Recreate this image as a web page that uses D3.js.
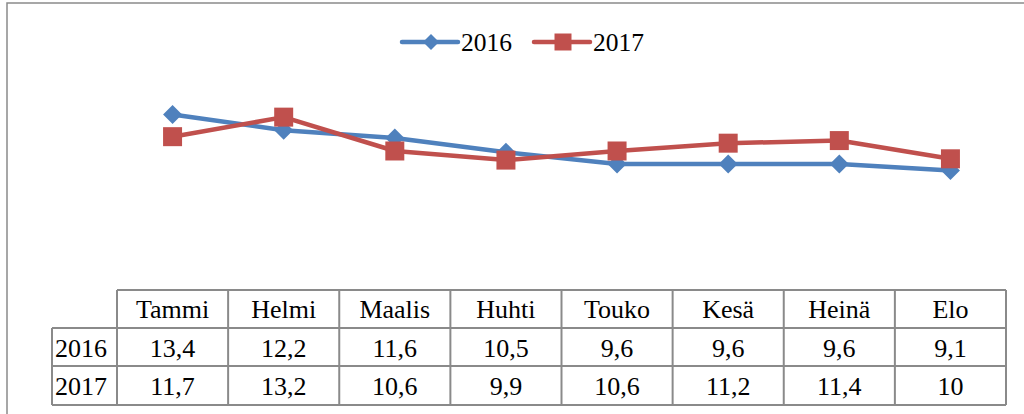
<!DOCTYPE html>
<html>
<head>
<meta charset="utf-8">
<script src="https://cdn.jsdelivr.net/npm/d3@7"></script>
<style>
  html,body{margin:0;padding:0;background:#fff;overflow:hidden;}
  svg{display:block;}
  svg text{font-family:'Liberation Serif','Times New Roman',Times,'DejaVu Serif',serif;}
</style>
</head>
<body>
<div id="chart"></div>
<script>
const months = ['Tammi','Helmi','Maalis','Huhti','Touko','Kesä','Heinä','Elo'];
const years = ['2016','2017'];
const v2016 = [13.4, 12.2, 11.6, 10.5, 9.6, 9.6, 9.6, 9.1];
const v2017 = [11.7, 13.2, 10.6, 9.9, 10.6, 11.2, 11.4, 10];
const colors = {'2016':'#4f81bd','2017':'#c0504d'};
const labels = {'2016':['13,4','12,2','11,6','10,5','9,6','9,6','9,6','9,1'],
                '2017':['11,7','13,2','10,6','9,9','10,6','11,2','11,4','10']};

(function(){
  const W=1024, H=414;
  const svg=d3.select('#chart').append('svg').attr('width',W).attr('height',H);
  const grey='#8a8a8a';

  // outer chart frame (right/bottom edges fall outside the picture)
  svg.append('rect').attr('x',7).attr('y',3).attr('width',1040).attr('height',430)
    .attr('fill','none').attr('stroke',grey).attr('stroke-width',1.5);

  const x=d3.scaleBand().domain(months).range([117,1006]);
  const y=d3.scaleLinear().domain([0,20]).range([289,28.6]);
  const cx=m=>x(m)+x.bandwidth()/2;

  const series=[{k:'2016',vals:v2016},{k:'2017',vals:v2017}];
  const diamond=r=>`M0,${-r}L${r},0L0,${r}L${-r},0Z`;
  const square=s=>`M${-s/2},${-s/2}h${s}v${s}h${-s}Z`;
  const shape={'2016':diamond(9.5),'2017':square(19)};

  const line=d3.line().x((d,i)=>cx(months[i])).y(d=>y(d));
  series.forEach(s=>{
    svg.append('path').datum(s.vals).attr('d',line).attr('fill','none')
      .attr('stroke',colors[s.k]).attr('stroke-width',4.5).attr('stroke-linejoin','round');
    svg.selectAll('.m'+s.k).data(s.vals).join('path')
      .attr('transform',(d,i)=>`translate(${cx(months[i])},${y(d)})`)
      .attr('d',shape[s.k]).attr('fill',colors[s.k]);
  });

  // legend
  const leg=svg.append('g').attr('transform','translate(0,42)');
  const lx={'2016':402,'2017':534};
  years.forEach(k=>{
    const g=leg.append('g').attr('transform',`translate(${lx[k]},0)`);
    g.append('line').attr('x1',0).attr('x2',56).attr('y1',0).attr('y2',0)
      .attr('stroke',colors[k]).attr('stroke-width',4.5).attr('stroke-linecap','round');
    g.append('path').attr('transform','translate(29,0)')
      .attr('d',k==='2016'?diamond(8):square(17)).attr('fill',colors[k]);
    g.append('text').attr('x',59).attr('y',9)
      .style('font-size','25.5px').attr('fill','#000').text(k);
  });

  // data table
  const rowY=[290,328,366,405];
  const t=svg.append('g').attr('stroke',grey).attr('stroke-width',2).attr('fill','none');
  t.append('line').attr('x1',117).attr('x2',1006).attr('y1',rowY[0]).attr('y2',rowY[0]);
  [1,2,3].forEach(i=>t.append('line').attr('x1',52).attr('x2',1006).attr('y1',rowY[i]).attr('y2',rowY[i]));
  t.append('line').attr('x1',52).attr('x2',52).attr('y1',rowY[1]).attr('y2',rowY[3]);
  months.forEach(m=>t.append('line').attr('x1',x(m)).attr('x2',x(m)).attr('y1',rowY[0]).attr('y2',rowY[3]));
  t.append('line').attr('x1',1006).attr('x2',1006).attr('y1',rowY[0]).attr('y2',rowY[3]);

  const txt=svg.append('g').style('font-size','26px').attr('fill','#000');
  months.forEach(m=>txt.append('text').attr('x',cx(m)).attr('y',318).attr('text-anchor','middle').text(m));
  years.forEach((k,r)=>{
    const by=rowY[r+1]+29;
    txt.append('text').attr('x',55).attr('y',by).text(k);
    labels[k].forEach((l,i)=>txt.append('text').attr('x',cx(months[i])).attr('y',by)
      .attr('text-anchor','middle').text(l));
  });
})();
</script>
</body>
</html>
